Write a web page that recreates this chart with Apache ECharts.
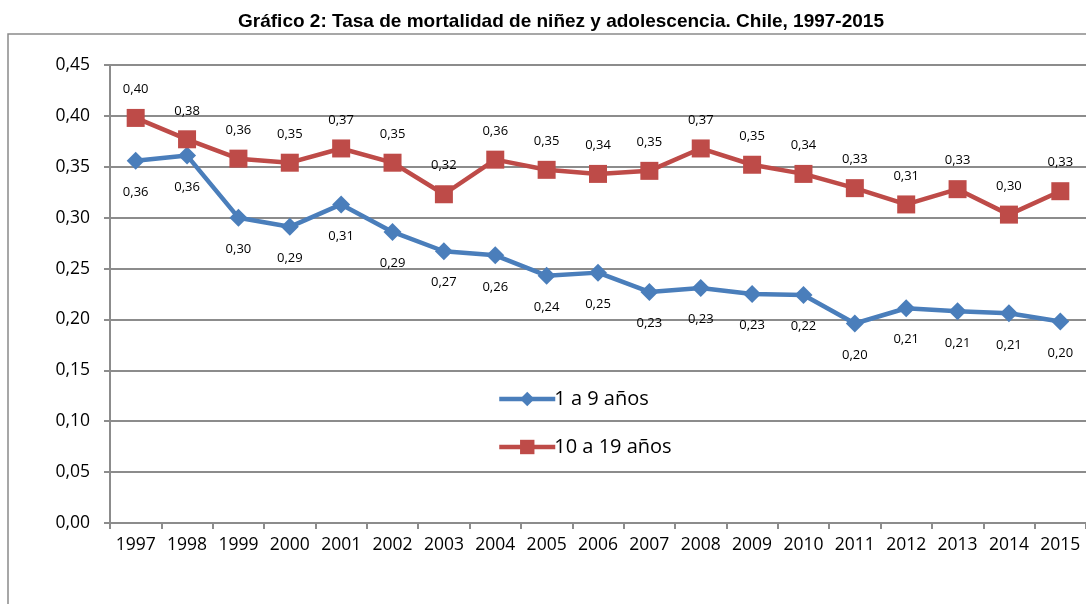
<!DOCTYPE html>
<html>
<head>
<meta charset="utf-8">
<script src="https://cdn.jsdelivr.net/npm/echarts@6/dist/echarts.min.js"></script>
<style>
  html, body { margin: 0; padding: 0; background: #fff; }
  #container { width: 1086px; height: 604px; }
</style>
</head>
<body>
<div id="container"></div>
<script>
// datos
var years = ['1997', '1998', '1999', '2000', '2001', '2002', '2003', '2004', '2005', '2006',
  '2007', '2008', '2009', '2010', '2011', '2012', '2013', '2014', '2015'];
var ninez = [0.356, 0.361, 0.300, 0.291, 0.313, 0.286, 0.267, 0.263, 0.243, 0.246,
  0.227, 0.231, 0.225, 0.224, 0.196, 0.211, 0.208, 0.206, 0.198];
var adolescencia = [0.398, 0.377, 0.358, 0.354, 0.368, 0.354, 0.323, 0.357, 0.347, 0.343,
  0.346, 0.368, 0.352, 0.343, 0.329, 0.313, 0.328, 0.303, 0.326];
var yTicks = [0, 0.05, 0.10, 0.15, 0.20, 0.25, 0.30, 0.35, 0.40, 0.45];

var font = '"Open Sans", "Noto Sans", sans-serif';
function coma(v, d) { return v.toFixed(d).replace('.', ','); }

var myChart = echarts.init(document.getElementById('container'));
var option = {
  animation: false,
  textStyle: { fontFamily: font },
  title: {
    text: 'Gráfico 2: Tasa de mortalidad de niñez y adolescencia. Chile, 1997-2015',
    left: 556, top: 7, textAlign: 'center',
    textStyle: { fontFamily: '"Liberation Sans", Arial, sans-serif', fontWeight: 'bold', fontSize: 19, color: '#000' }
  },
  graphic: [{
    type: 'polyline',
    shape: { points: [[8, 604], [8, 34], [1090, 34]] },
    style: { stroke: '#8a8a8a', lineWidth: 1.5, fill: null }
  }],
  legend: {
    orient: 'vertical', left: 492, top: 384, itemGap: 28,
    itemWidth: 56, itemHeight: 18,
    lineStyle: { width: 4.5 },
    textStyle: { fontFamily: font, fontSize: 20, color: '#000', padding: [0, 0, 0, -6] },
    data: ['1 a 9 años', '10 a 19 años']
  },
  grid: { left: 110, right: -2, top: 65, bottom: 81 },
  xAxis: {
    type: 'category', data: years, boundaryGap: true,
    axisLine: { lineStyle: { color: '#8c8c8c', width: 2 } },
    axisTick: { show: true, length: 6, lineStyle: { color: '#8c8c8c', width: 2 } },
    axisLabel: { color: '#000', fontSize: 17.5, margin: 13, interval: 0 }
  },
  yAxis: {
    type: 'value', min: 0, max: 0.45, interval: 0.05,
    axisLine: { show: true, lineStyle: { color: '#8c8c8c', width: 2 } },
    axisTick: { show: true, length: 6, lineStyle: { color: '#8c8c8c', width: 2 } },
    splitLine: { lineStyle: { color: '#8c8c8c', width: 2 } },
    axisLabel: { color: '#000', fontSize: 17.5, margin: 20, formatter: function (v) { return coma(v, 2); } }
  },
  series: [{
    name: '1 a 9 años', type: 'line', data: ninez,
    symbol: 'diamond', symbolSize: 18,
    lineStyle: { color: '#4a7ebb', width: 4.5 },
    itemStyle: { color: '#4a7ebb' },
    label: { show: true, position: 'bottom', distance: 16, color: '#000', fontSize: 13, formatter: function (p) { return coma(p.value, 2); } }
  }, {
    name: '10 a 19 años', type: 'line', data: adolescencia,
    symbol: 'rect', symbolSize: 18,
    lineStyle: { color: '#be4b48', width: 4.5 },
    itemStyle: { color: '#be4b48' },
    label: { show: true, position: 'top', distance: 13, color: '#000', fontSize: 13, formatter: function (p) { return coma(p.value, 2); } }
  }]
};
myChart.setOption(option);
</script>
</body>
</html>
